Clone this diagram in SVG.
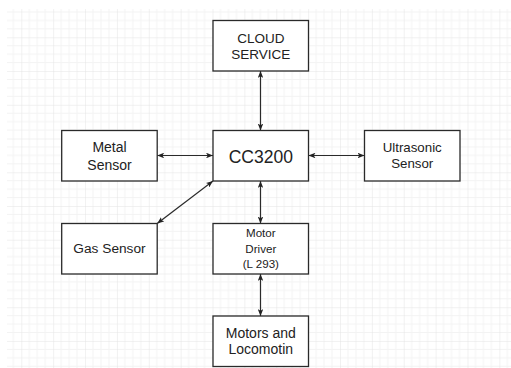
<svg xmlns="http://www.w3.org/2000/svg" width="511" height="368" viewBox="0 0 511 368">
  <defs>
    <pattern id="grid" patternUnits="userSpaceOnUse" x="21.3" y="37.3" width="31.87" height="33.74">
      <path d="M7.97,0V33.74M15.94,0V33.74M23.9,0V33.74M0,8.43H31.87M0,16.87H31.87M0,25.3H31.87" stroke="#f3f3f3" stroke-width="1" fill="none"/>
      <path d="M0,0V33.74M0,0H31.87" stroke="#e3e3e3" stroke-width="1" fill="none"/>
    </pattern>
    <marker id="arr" viewBox="0 0 10 8" refX="10" refY="4" markerUnits="userSpaceOnUse" markerWidth="7" markerHeight="5.6" orient="auto-start-reverse">
      <path d="M0,0 L10,4 L0,8 L2.5,4 z" fill="#222"/>
    </marker>
  </defs>
  <style>
    .box { fill: #ffffff; stroke: #2a2a2a; stroke-width: 1.3; }
    .t { font-family: "Liberation Sans", Arial, sans-serif; fill: #222; text-anchor: middle; }
    .c { stroke: #2a2a2a; stroke-width: 1.2; fill: none; marker-start: url(#arr); marker-end: url(#arr); }
  </style>
  <rect x="0" y="0" width="511" height="368" fill="#ffffff"/>
  <rect x="7" y="9" width="504" height="359" fill="url(#grid)"/>

  <g id="connectors">
    <line class="c" x1="260.5" y1="71" x2="260.5" y2="130.5"/>
    <line class="c" x1="157.2" y1="155.5" x2="213" y2="155.5"/>
    <line class="c" x1="308.5" y1="155.5" x2="364.5" y2="155.5"/>
    <line class="c" x1="213" y1="181" x2="157.2" y2="223.5"/>
    <line class="c" x1="260.5" y1="181" x2="260.5" y2="223.5"/>
    <line class="c" x1="260.5" y1="274" x2="260.5" y2="316"/>
  </g>

  <g id="cloud">
    <rect class="box" x="213" y="20.5" width="95.5" height="50.5"/>
    <text class="t" x="260.8" y="43" font-size="13.5">CLOUD</text>
    <text class="t" x="260.8" y="59.3" font-size="13.5">SERVICE</text>
  </g>
  <g id="cc3200">
    <rect class="box" x="213" y="130.5" width="95.5" height="50.5"/>
    <text class="t" x="260.8" y="162.5" font-size="17.5">CC3200</text>
  </g>
  <g id="metal">
    <rect class="box" x="61.7" y="130.5" width="95.5" height="50.5"/>
    <text class="t" x="109.5" y="152.3" font-size="14">Metal</text>
    <text class="t" x="109.5" y="170" font-size="14">Sensor</text>
  </g>
  <g id="ultrasonic">
    <rect class="box" x="364.5" y="130.5" width="95.5" height="50.5"/>
    <text class="t" x="412.2" y="152.3" font-size="13.3">Ultrasonic</text>
    <text class="t" x="412.2" y="168.3" font-size="13.3">Sensor</text>
  </g>
  <g id="gas">
    <rect class="box" x="61.7" y="223.5" width="95.5" height="50.5"/>
    <text class="t" x="109.5" y="253.3" font-size="13.7">Gas Sensor</text>
  </g>
  <g id="driver">
    <rect class="box" x="213" y="223.5" width="95.5" height="50.5"/>
    <text class="t" x="260.8" y="237.3" font-size="11.6" fill="#333">Motor</text>
    <text class="t" x="260.8" y="252.8" font-size="11.6" fill="#333">Driver</text>
    <text class="t" x="260.8" y="267.7" font-size="11.6" fill="#333">(L 293)</text>
  </g>
  <g id="motors">
    <rect class="box" x="213" y="316" width="95.5" height="50.5"/>
    <text class="t" x="260.8" y="337.7" font-size="14">Motors and</text>
    <text class="t" x="260.8" y="354.3" font-size="14">Locomotin</text>
  </g>
</svg>
